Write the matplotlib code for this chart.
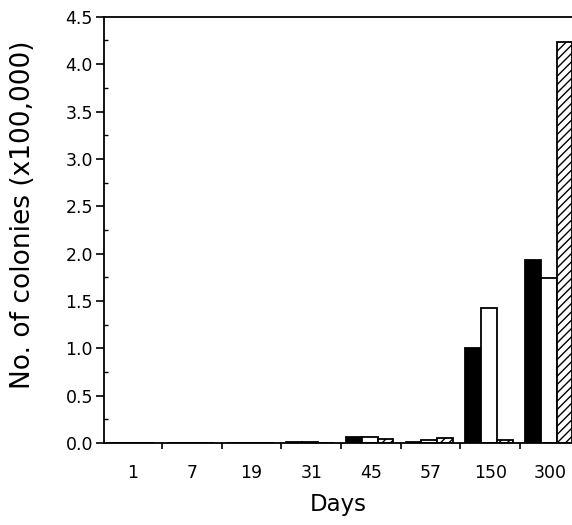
import matplotlib
matplotlib.use("Agg")
import matplotlib.pyplot as plt
import numpy as np

plt.rcParams['font.family'] = ['DejaVu Sans']
plt.rcParams['hatch.linewidth'] = 1.0

days = ["1", "7", "19", "31", "45", "57", "150", "300"]
series_black = [0.0, 0.0, 0.0, 0.015, 0.06, 0.01, 1.00, 1.93]
series_white = [0.0, 0.0, 0.0, 0.01, 0.06, 0.03, 1.43, 1.74]
series_hatched = [0.0, 0.0, 0.0, 0.005, 0.04, 0.05, 0.03, 4.23]
y_ticks = [0.0, 0.5, 1.0, 1.5, 2.0, 2.5, 3.0, 3.5, 4.0, 4.5]

fig = plt.figure(figsize=(5.72, 5.25), dpi=100)
ax = fig.add_axes([0.182, 0.156, 0.818, 0.812])

x = np.arange(len(days))
w = 0.265
ax.bar(x - w - 0.02, series_black, w, color='black', edgecolor='black', linewidth=1.3)
ax.bar(x - 0.02, series_white, w, color='white', edgecolor='black', linewidth=1.3)
ax.bar(x + w - 0.02, series_hatched, w, color='white', edgecolor='black', linewidth=1.3, hatch='////')

ax.set_xlim(-0.47, 7.37)
ax.set_ylim(0, 4.5)

ax.set_xticks(x)
ax.set_xticklabels(days, fontsize=12.5)
ax.set_xticks(np.arange(0.5, 7, 1), minor=True)
ax.tick_params(axis='x', which='major', length=0, pad=15)
ax.tick_params(axis='x', which='minor', length=4, width=1.2, direction='out')

ax.set_yticks(y_ticks)
ax.set_yticklabels([f"{v:.1f}" for v in y_ticks], fontsize=12.5)
ax.set_yticks(np.arange(0.25, 4.5, 0.5), minor=True)
ax.tick_params(axis='y', which='major', length=6, width=1.2, direction='out', pad=2)
ax.tick_params(axis='y', which='minor', length=3, width=1.0, direction='in')

for s in ['left', 'bottom', 'top']:
    ax.spines[s].set_linewidth(1.3)
ax.spines['right'].set_visible(False)

ax.set_xlabel("Days", fontsize=16.5, labelpad=8)
ax.set_ylabel("No. of colonies (x100,000)", fontsize=19)
ax.yaxis.set_label_coords(-0.145, 0.535)

fig.savefig("out.png", dpi=100)
